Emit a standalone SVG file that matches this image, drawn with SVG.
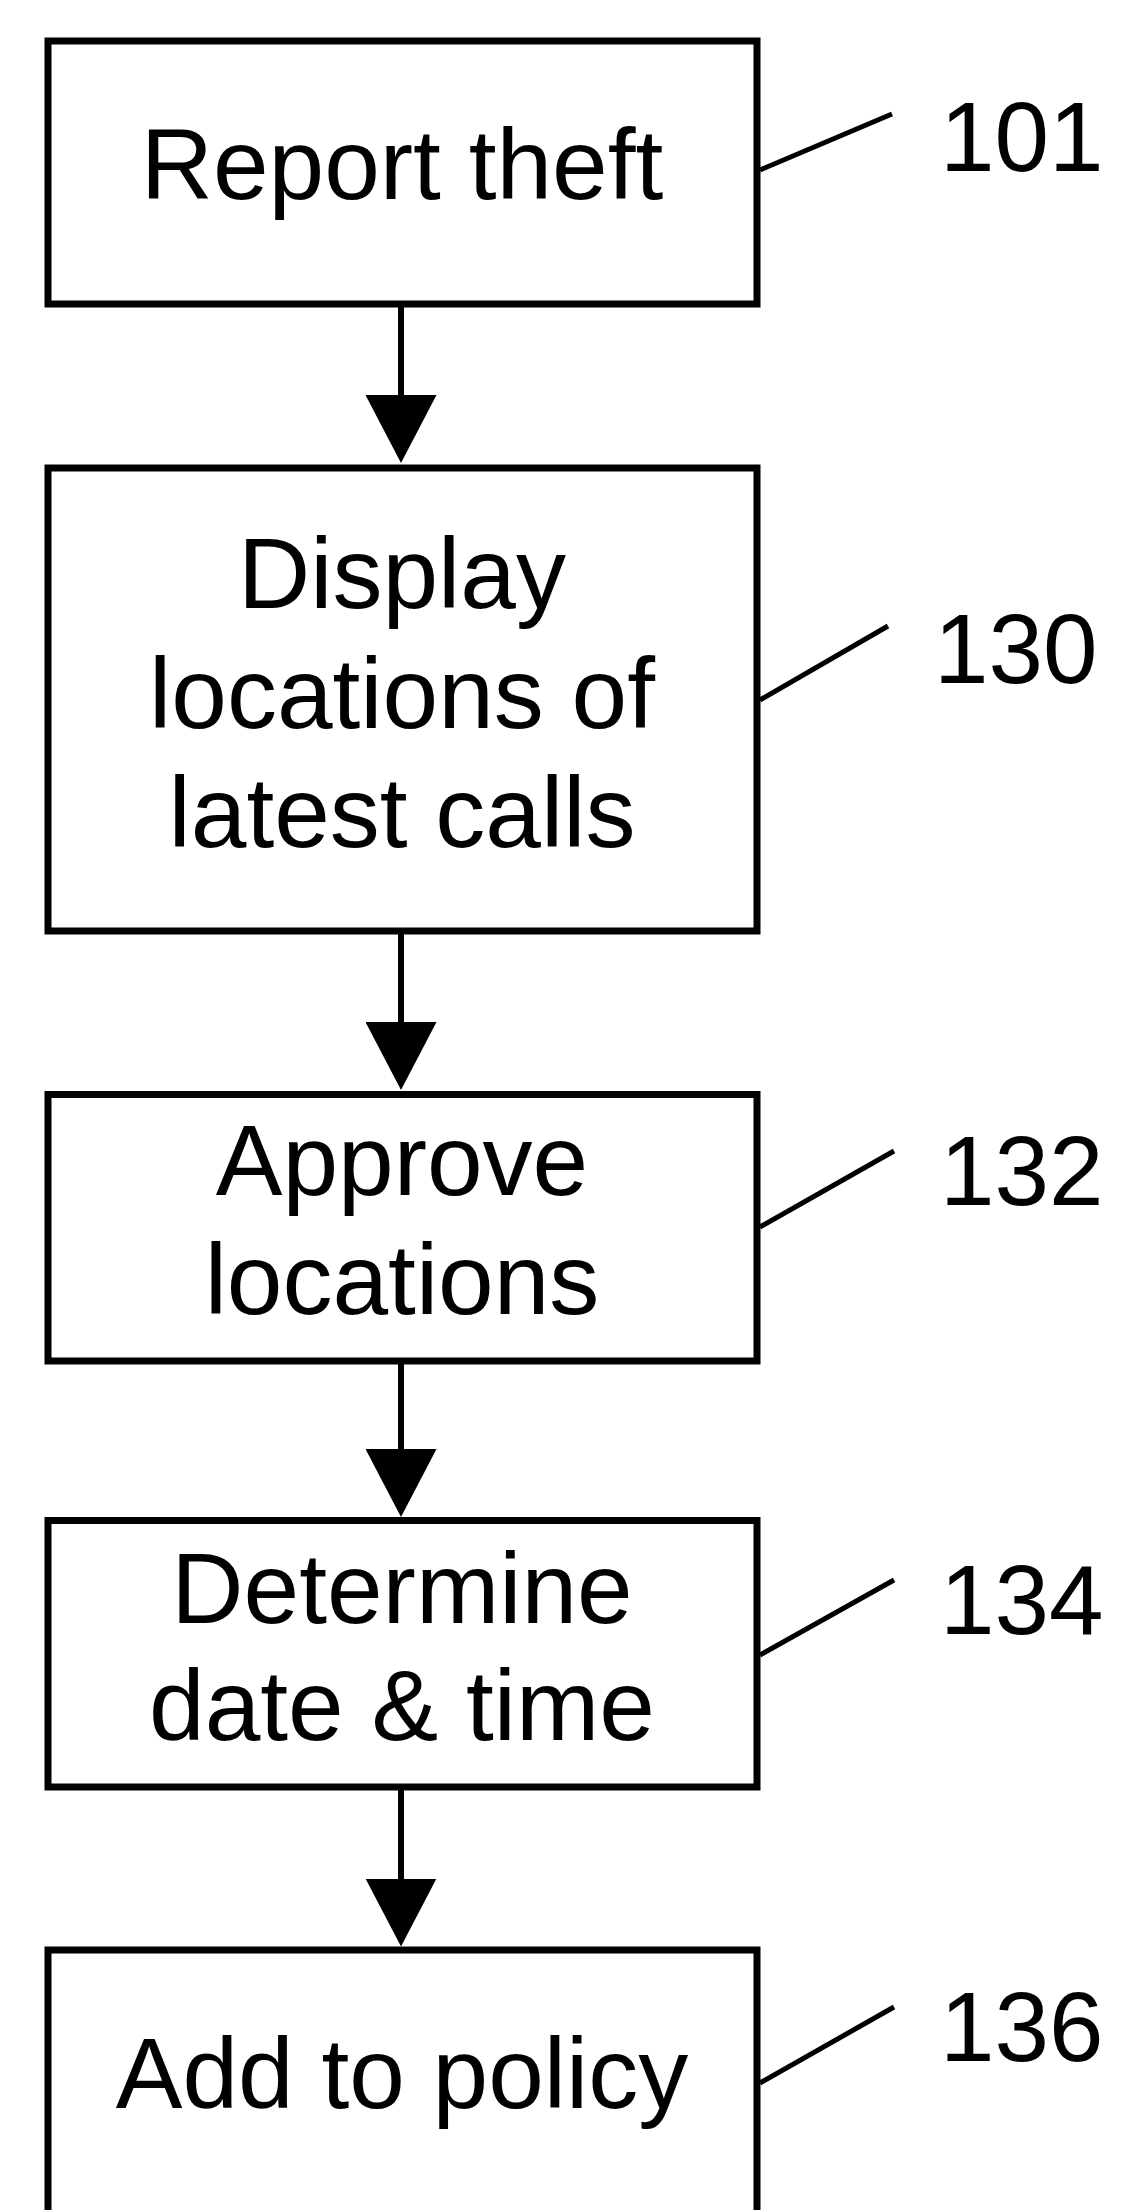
<svg xmlns="http://www.w3.org/2000/svg" width="1127" height="2210" viewBox="0 0 1127 2210">
<style>
.box{fill:#fff;stroke:#000;stroke-width:7}
.txt{font-family:"Liberation Sans",Arial,sans-serif;font-size:100px;fill:#000;text-anchor:middle}
.lbl{font-family:"Liberation Sans",Arial,sans-serif;font-size:98px;fill:#000}
.lead{stroke:#000;stroke-width:5;fill:none}
.conn{stroke:#000;stroke-width:6;fill:none;marker-end:url(#ah)}
</style>
<defs>
<marker id="ah" markerUnits="userSpaceOnUse" viewBox="0 0 68 71" markerWidth="68" markerHeight="71" refX="48" refY="35.5" orient="auto">
<path d="M0,0 L68,35.5 L0,71 z" fill="#000"/>
</marker>
</defs>
<rect width="1127" height="2210" fill="#fff"/>
<g id="connectors">
<line class="conn" x1="401" y1="304" x2="401" y2="443"/>
<line class="conn" x1="401" y1="931" x2="401" y2="1070"/>
<line class="conn" x1="401" y1="1361" x2="401" y2="1497"/>
<line class="conn" x1="401" y1="1787" x2="401" y2="1926.5"/>
</g>
<g id="node101">
<rect class="box" x="48" y="41" width="709" height="263"/>
<text class="txt" x="402" y="199">Report theft</text>
<line class="lead" x1="760" y1="170" x2="892" y2="114"/>
<text class="lbl" x="940" y="171">101</text>
</g>
<g id="node130">
<rect class="box" x="48" y="468" width="709" height="463"/>
<text class="txt" x="402" y="608">Display</text>
<text class="txt" x="402" y="728">locations of</text>
<text class="txt" x="402" y="847">latest calls</text>
<line class="lead" x1="760" y1="700" x2="888" y2="626"/>
<text class="lbl" x="934" y="683">130</text>
</g>
<g id="node132">
<rect class="box" x="48" y="1094.5" width="709" height="266.5"/>
<text class="txt" x="402" y="1195">Approve</text>
<text class="txt" x="402" y="1314">locations</text>
<line class="lead" x1="760" y1="1227" x2="894" y2="1151"/>
<text class="lbl" x="940" y="1205">132</text>
</g>
<g id="node134">
<rect class="box" x="48" y="1520.5" width="709" height="266.5"/>
<text class="txt" x="402" y="1623">Determine</text>
<text class="txt" x="402" y="1740">date &amp; time</text>
<line class="lead" x1="760" y1="1655" x2="894" y2="1580"/>
<text class="lbl" x="940" y="1634">134</text>
</g>
<g id="node136">
<rect class="box" x="48" y="1950" width="709" height="320"/>
<text class="txt" x="402" y="2108">Add to policy</text>
<line class="lead" x1="760" y1="2083" x2="894" y2="2007"/>
<text class="lbl" x="940" y="2061">136</text>
</g>
</svg>
